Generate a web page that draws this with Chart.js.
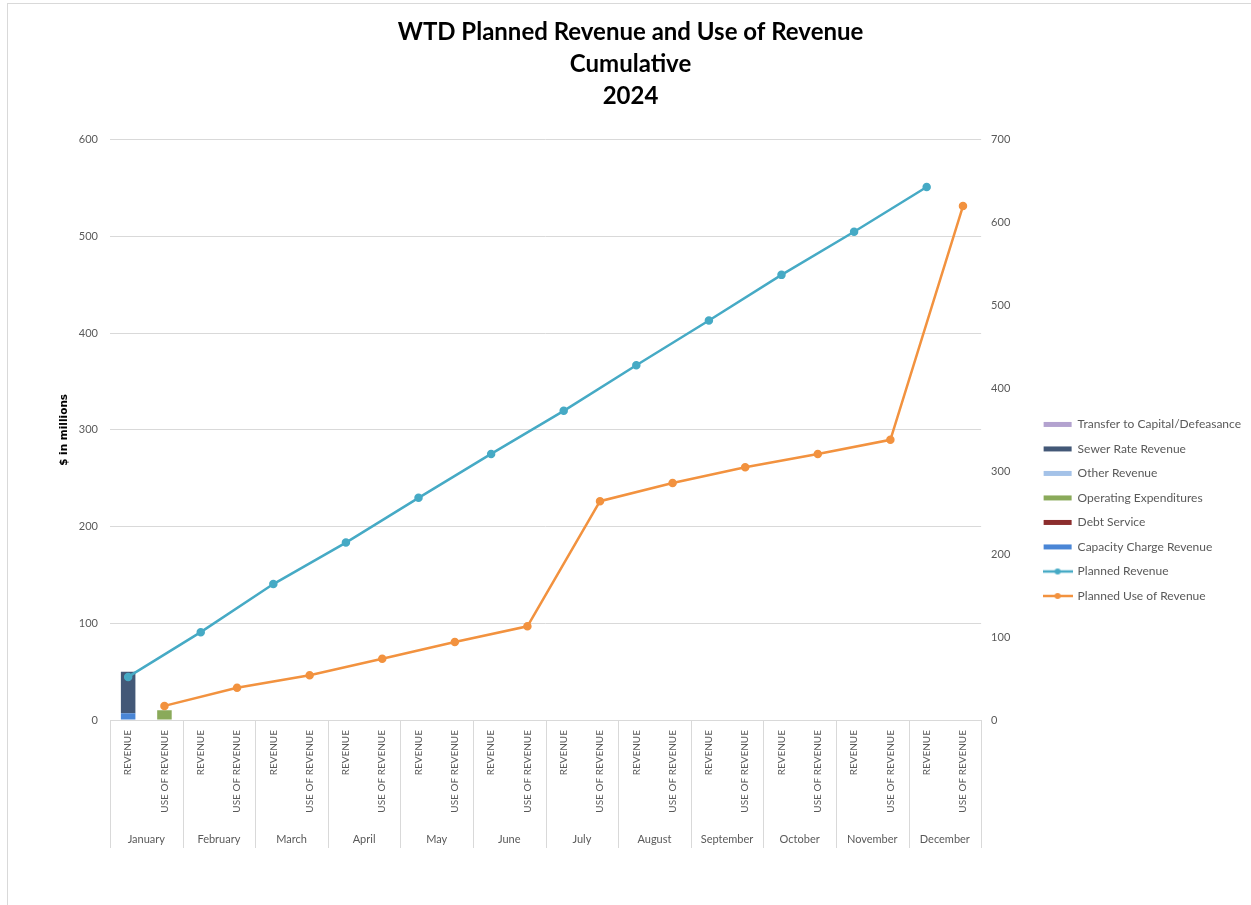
<!DOCTYPE html>
<html>
<head>
<meta charset="utf-8">
<title>WTD Planned Revenue and Use of Revenue</title>
<script src="https://cdn.jsdelivr.net/npm/chart.js@4.4.1/dist/chart.umd.min.js"></script>
<style>
    html, body { margin: 0; padding: 0; background: #fff; }
    .frame { position: absolute; left: 7px; top: 3px; width: 1300px; height: 1000px; border: 1px solid #d9d9d9; }
    .wrap { position: relative; width: 1251px; height: 905px; }
</style>
</head>
<body>
<div class="frame"></div>
<div class="wrap"><canvas id="revenueChart"></canvas></div>
<script>
const months = [
    'January', 'February', 'March', 'April', 'May', 'June',
    'July', 'August', 'September', 'October', 'November', 'December'
];
const slots = ['REVENUE', 'USE OF REVENUE'];

// actuals to date ($ millions, left axis)
const capacityCharge = [7, null, null, null, null, null, null, null, null, null, null, null];
const sewerRate = [43, null, null, null, null, null, null, null, null, null, null, null];
const otherRevenue = [null, null, null, null, null, null, null, null, null, null, null, null];
const operatingExp = [10, null, null, null, null, null, null, null, null, null, null, null];
const debtService = [null, null, null, null, null, null, null, null, null, null, null, null];
const transferCapital = [null, null, null, null, null, null, null, null, null, null, null, null];

// planned, cumulative (right axis)
const plannedRevenue = [52, 106, 164, 214, 268, 321, 373, 428, 482, 537, 589, 643];
const plannedUse = [17, 39, 54, 74, 94, 113, 264, 286, 305, 321, 338, 620];

const leftTicks = { min: 0, max: 600, step: 100 };
const rightTicks = { min: 0, max: 700, step: 100 };

const textGrey = '#595959';
const gridGrey = '#d9d9d9';

document.addEventListener('DOMContentLoaded', () => {
    initializeRevenueChart();
});

// put a monthly series on the REVENUE or USE OF REVENUE slot of each month
function onSlot(values, slot) {
    const out = [];
    values.forEach(v => {
        out.push(slot === 0 ? v : null);
        out.push(slot === 1 ? v : null);
    });
    return out;
}

function lineIcon(color) {
    const c = document.createElement('canvas');
    c.width = 30;
    c.height = 8;
    const g = c.getContext('2d');
    g.strokeStyle = color;
    g.lineWidth = 2.5;
    g.beginPath();
    g.moveTo(0, 4);
    g.lineTo(30, 4);
    g.stroke();
    g.fillStyle = color;
    g.beginPath();
    g.arc(15, 4, 3, 0, Math.PI * 2);
    g.fill();
    return c;
}

const monthDividers = {
    id: 'monthDividers',
    afterDraw(chart) {
        const { ctx, chartArea } = chart;
        const x2 = chart.scales.x2;
        ctx.save();
        ctx.strokeStyle = gridGrey;
        ctx.lineWidth = 1;
        for (let i = 0; i <= months.length; i++) {
            const px = Math.round(x2.getPixelForValue(i - 0.5)) + 0.5;
            ctx.beginPath();
            ctx.moveTo(px, chartArea.bottom);
            ctx.lineTo(px, x2.top + 18);
            ctx.stroke();
        }
        ctx.restore();
    }
};

function barSet(label, values, slot, color) {
    return {
        type: 'bar',
        label,
        data: onSlot(values, slot),
        backgroundColor: color,
        borderWidth: 0,
        yAxisID: 'y',
        order: 1,
        categoryPercentage: 1,
        barPercentage: 0.4
    };
}

function lineSet(label, values, slot, color) {
    return {
        type: 'line',
        label,
        data: onSlot(values, slot),
        borderColor: color,
        backgroundColor: color,
        pointBackgroundColor: color,
        pointBorderColor: color,
        pointRadius: 3,
        borderWidth: 2.5,
        spanGaps: true,
        tension: 0,
        yAxisID: 'y1',
        order: 0
    };
}

function initializeRevenueChart() {
    const ctx = document.getElementById('revenueChart');
    if (!ctx) return null;

    const categories = [];
    months.forEach(() => slots.forEach(s => categories.push(s)));

    return new Chart(ctx, {
        data: {
            labels: categories,
            datasets: [
                barSet('Capacity Charge Revenue', capacityCharge, 0, '#4a86d6'),
                barSet('Debt Service', debtService, 1, '#8c2d2d'),
                barSet('Operating Expenditures', operatingExp, 1, '#8aaa5a'),
                barSet('Other Revenue', otherRevenue, 0, '#a4c2e8'),
                barSet('Sewer Rate Revenue', sewerRate, 0, '#435877'),
                barSet('Transfer to Capital/Defeasance', transferCapital, 1, '#b3a2cf'),
                lineSet('Planned Revenue', plannedRevenue, 0, '#46aac5'),
                lineSet('Planned Use of Revenue', plannedUse, 1, '#f2923f')
            ]
        },
        options: {
            responsive: true,
            maintainAspectRatio: false,
            animation: false,
            layout: {
                padding: { left: 10, right: 0, top: 0, bottom: 5 }
            },
            plugins: {
                title: {
                    display: true,
                    text: ['WTD Planned Revenue and Use of Revenue', 'Cumulative', '2024'],
                    color: '#000',
                    font: { family: 'Lato', size: 24, weight: 'bold', lineHeight: 1.33 },
                    padding: { top: 16, bottom: 28 }
                },
                legend: {
                    position: 'right',
                    maxWidth: 260,
                    title: {
                        display: true,
                        text: ' ',
                        font: { size: 12 },
                        padding: { top: 0, bottom: 106 }
                    },
                    labels: {
                        usePointStyle: true,
                        pointStyleWidth: 28,
                        boxHeight: 5,
                        padding: 12.5,
                        color: textGrey,
                        font: { family: 'Lato', size: 12 },
                        generateLabels(chart) {
                            const items = Chart.defaults.plugins.legend.labels.generateLabels(chart);
                            items.forEach(item => {
                                const ds = chart.data.datasets[item.datasetIndex];
                                item.pointStyle = ds.type === 'line' ? lineIcon(ds.borderColor) : 'rect';
                                item.lineWidth = 0;
                            });
                            return items;
                        },
                        sort(a, b, data) {
                            const rank = item => data.datasets[item.datasetIndex].type === 'line'
                                ? 100 + item.datasetIndex
                                : -item.datasetIndex;
                            return rank(a) - rank(b);
                        }
                    }
                },
                tooltip: { enabled: false }
            },
            scales: {
                x: {
                    stacked: true,
                    grid: { display: false, drawTicks: false },
                    border: { display: true, color: gridGrey },
                    ticks: {
                        autoSkip: false,
                        minRotation: 90,
                        maxRotation: 90,
                        padding: 10,
                        color: textGrey,
                        font: { family: 'Lato', size: 10 }
                    },
                    afterFit(scale) { scale.height = 110; }
                },
                x2: {
                    type: 'category',
                    labels: months,
                    position: 'bottom',
                    offset: true,
                    grid: { display: false, drawTicks: false },
                    border: { display: false },
                    ticks: {
                        padding: 3,
                        color: textGrey,
                        font: { family: 'Lato', size: 11 }
                    },
                    afterFit(scale) { scale.height = 70; }
                },
                y: {
                    stacked: true,
                    position: 'left',
                    min: leftTicks.min,
                    max: leftTicks.max,
                    grid: { color: gridGrey, drawTicks: false },
                    border: { display: false },
                    ticks: {
                        stepSize: leftTicks.step,
                        padding: 12,
                        color: textGrey,
                        font: { family: 'Lato', size: 11 }
                    },
                    title: {
                        display: true,
                        text: '$ in millions',
                        color: '#000',
                        font: { family: 'DejaVu Sans', size: 10.5, weight: 'bold' },
                        padding: { top: 48, bottom: 0 }
                    },
                    afterFit(scale) { scale.width = 100; }
                },
                y1: {
                    position: 'right',
                    min: rightTicks.min,
                    max: rightTicks.max,
                    grid: { display: false, drawTicks: false },
                    border: { display: false },
                    ticks: {
                        stepSize: rightTicks.step,
                        padding: 10,
                        color: textGrey,
                        font: { family: 'Lato', size: 11 }
                    },
                    afterFit(scale) { scale.width = 50; }
                }
            }
        },
        plugins: [monthDividers]
    });
}
</script>
</body>
</html>
